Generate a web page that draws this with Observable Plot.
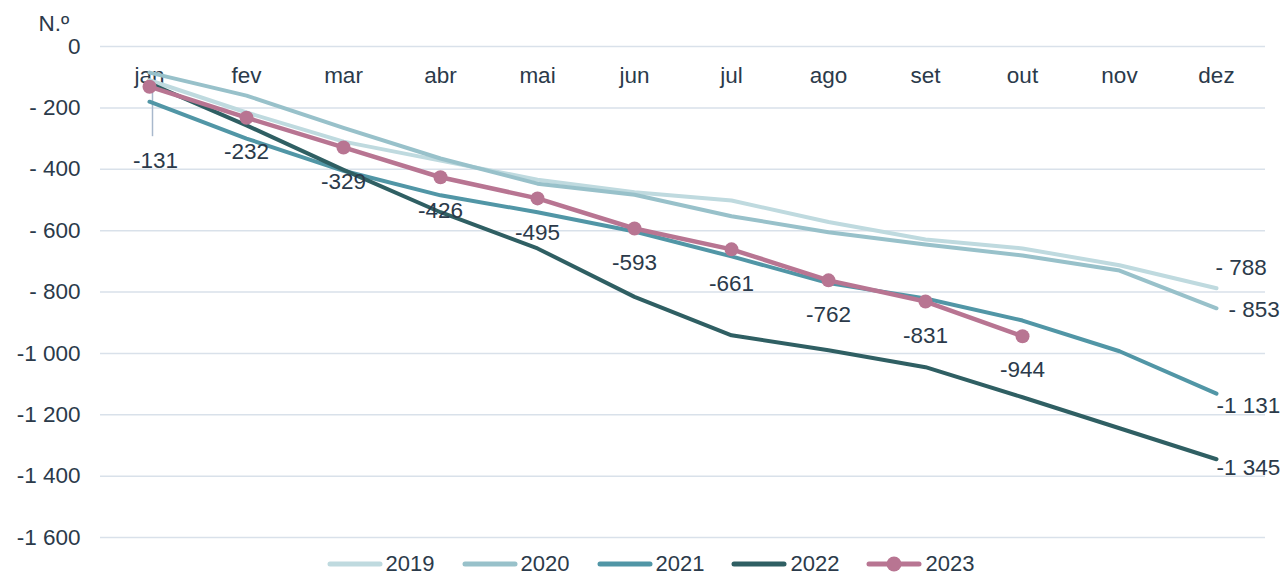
<!DOCTYPE html>
<html>
<head>
<meta charset="utf-8">
<script src="https://cdn.jsdelivr.net/npm/d3@7"></script>
<script src="https://cdn.jsdelivr.net/npm/@observablehq/plot@0.6"></script>
<style>
  html, body { margin: 0; padding: 0; background: #fff; }
  body { width: 1285px; height: 575px; overflow: hidden; font-family: "Liberation Sans", Arial, sans-serif; color: #2B3A4A; }
  #chart svg { display: block; }
  #legend { display: flex; justify-content: center; align-items: center; gap: 27px; height: 23px; line-height: 23px; font-size: 22px; margin-left: 16px; }
  #legend .item { display: flex; align-items: center; gap: 3px; }
  #legend svg { display: block; }
</style>
</head>
<body>
<div id="chart"></div>
<div id="legend"></div>
<script>
const months = ["jan","fev","mar","abr","mai","jun","jul","ago","set","out","nov","dez"];
const years = ["2019","2020","2021","2022","2023"];
const colors = ["#BFDADF","#98C1CA","#5196A6","#2F5F63","#B87592"];
const v2019 = [-110,-215,-310,-372,-434,-475,-502,-572,-629,-658,-713,-788];
const v2020 = [-85,-160,-265,-365,-447,-483,-553,-605,-645,-681,-730,-853];
const v2021 = [-180,-300,-405,-485,-540,-603,-684,-771,-821,-893,-993,-1131];
const v2022 = [-120,-257,-402,-540,-658,-816,-941,-990,-1045,-1143,-1244,-1345];
const v2023 = [-131,-232,-329,-426,-495,-593,-661,-762,-831,-944];
const labels2023 = ["-131","-232","-329","-426","-495","-593","-661","-762","-831","-944"];
const endLabels = ["- 788","- 853","-1 131","-1 345"];
const yTicks = [0,-200,-400,-600,-800,-1000,-1200,-1400,-1600];
const yTickLabels = ["0","- 200","- 400","- 600","- 800","-1 000","-1 200","-1 400","-1 600"];

const FS = 22.5;
const series = [v2019, v2020, v2021, v2022, v2023];
const rows = [];
series.forEach((arr, i) => arr.forEach((v, j) => rows.push({year: years[i], month: months[j], v, idx: j})));
const pts2023 = rows.filter(d => d.year === "2023").map((d, j) => ({...d, label: labels2023[j]}));
const ends = [0,1,2,3].map(i => ({year: years[i], month: "dez", v: series[i][11], label: endLabels[i]}));
const endOffsets = [{dx: -1, dy: -21}, {dx: 12, dy: 2}, {dx: 0, dy: 12}, {dx: 0, dy: 9}];
const tickLabelMap = new Map(yTicks.map((t, i) => [t, yTickLabels[i]]));
const textColor = "#2B3A4A";

const marks = [
  Plot.ruleY(yTicks, {stroke: "#D9E1EA", strokeWidth: 1.5}),
  Plot.axisY({ticks: yTicks, tickFormat: d => tickLabelMap.get(d), tickSize: 0, tickPadding: 20, fontSize: FS, color: textColor, label: null}),
  Plot.text(months, {x: d => d, y: () => 0, dy: 29, fontSize: FS, fill: textColor}),
  Plot.ruleX([pts2023[0]], {x: "month", y1: "v", y2: "v", insetBottom: -50, dx: 3, stroke: "#A8B8CC", strokeWidth: 1.5})
];
years.forEach((yr, i) => {
  marks.push(Plot.line(rows.filter(d => d.year === yr), {
    x: "month", y: "v", stroke: colors[i],
    strokeWidth: i === 4 ? 4.5 : 4, strokeLinecap: "round", strokeLinejoin: "round"
  }));
});
marks.push(Plot.dot(pts2023, {x: "month", y: "v", r: 7, fill: colors[4]}));
marks.push(Plot.text(pts2023.slice(1), {x: "month", y: "v", text: "label", dy: 34, fontSize: FS, fill: textColor}));
marks.push(Plot.text([pts2023[0]], {x: "month", y: "v", text: "label", dy: 74, dx: 6, fontSize: FS, fill: textColor}));
ends.forEach((e, i) => {
  marks.push(Plot.text([e], {x: "month", y: "v", text: "label", textAnchor: "start", dx: endOffsets[i].dx, dy: endOffsets[i].dy, fontSize: FS, fill: textColor}));
});
marks.push(Plot.text(["N.º"], {frameAnchor: "top-left", dx: -62, dy: -31, fontSize: FS, fill: textColor, text: d => d}));

const chart = Plot.plot({
  width: 1285,
  height: 552,
  marginTop: 46,
  marginBottom: 15,
  marginLeft: 100,
  marginRight: 20,
  style: {fontFamily: "Liberation Sans, Arial, sans-serif", background: "#fff", overflow: "visible"},
  x: {type: "point", domain: months, padding: 0.5, axis: null},
  y: {domain: [-1600, 0], axis: null},
  marks
});
document.getElementById("chart").appendChild(chart);

const legend = document.getElementById("legend");
years.forEach((yr, i) => {
  const item = document.createElement("div");
  item.className = "item";
  const dot = i === 4 ? `<circle cx="28" cy="8" r="7.5" fill="${colors[i]}"/>` : "";
  item.innerHTML = `<svg width="56" height="16"><line x1="3" y1="8" x2="53" y2="8" stroke="${colors[i]}" stroke-width="5" stroke-linecap="round"/>${dot}</svg><span>${yr}</span>`;
  legend.appendChild(item);
});
</script>
</body>
</html>
